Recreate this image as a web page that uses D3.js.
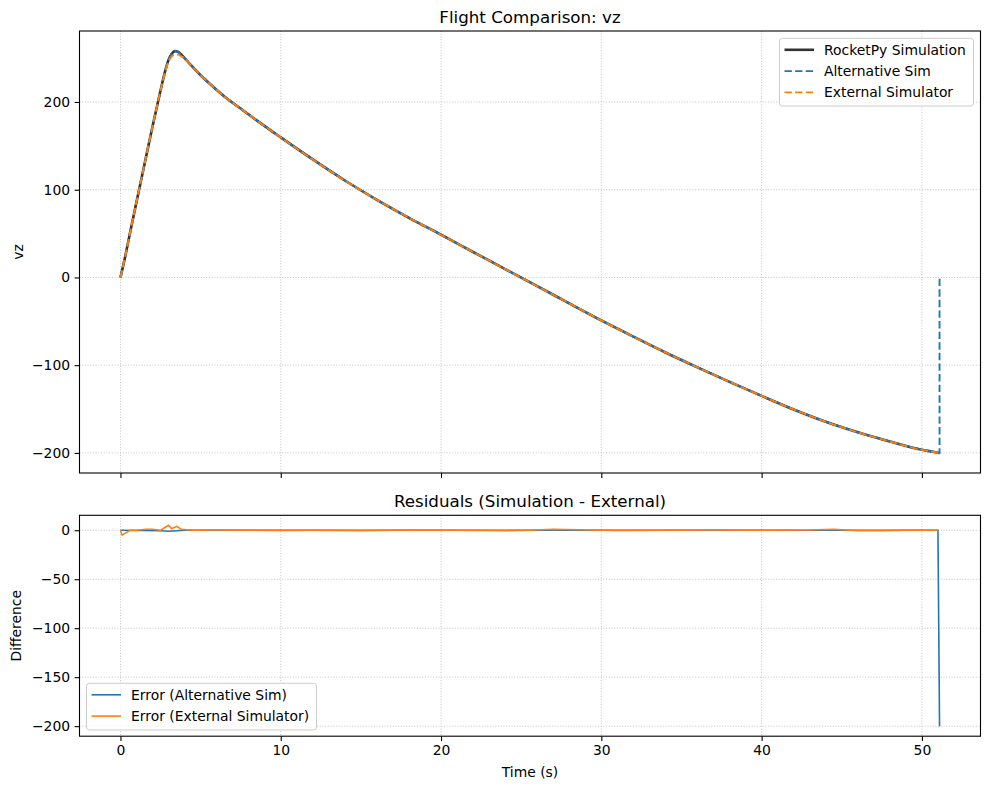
<!DOCTYPE html>
<html>
<head>
<meta charset="utf-8">
<script src="https://cdn.jsdelivr.net/npm/d3@7"></script>
<style>
  body { margin: 0; background: #fff; }
  svg { font-family: "DejaVu Sans", sans-serif; }
</style>
</head>
<body>
<div id="content"></div>
<script>
// time (s) and vz values
var timeMain = [0, 0.3, 0.6, 1.0, 1.5, 2.0, 2.5, 2.8, 3.0, 3.2, 3.4, 3.6, 3.8, 4.0, 4.3, 4.7, 5.2, 5.8, 6.5, 7.5, 8.5, 10,
  12, 14, 16, 18, 20, 22, 24, 26, 28, 30, 32, 34, 36, 38, 40, 42, 44, 46, 48, 50, 51.1];
var rocketpyVz = [0, 24, 51, 86, 129, 172, 213, 236, 248, 255, 258, 257, 254, 250, 244, 236, 227, 217, 206, 192.5, 179, 159.6,
  134.5, 110.5, 88.5, 68, 48.7, 29, 9.5, -10, -29.5, -49, -67.5, -85.5, -102.5, -119, -135, -150.5, -164.5, -176.5, -187, -196.5, -200];
var externalVz = [0, 24, 51, 86, 129, 172, 213, 235, 246, 252, 254, 254, 252, 249.5, 244, 236, 227, 217, 206, 192.5, 179, 159.6,
  134.5, 110.5, 88.5, 68, 48.7, 29, 9.5, -10, -29.5, -49, -67.5, -85.5, -102.5, -119, -135, -150.5, -164.5, -176.5, -187, -196.5, -200];
// alternative sim follows rocketpy, then drops back to 0 at the last sample
var altTime = timeMain.concat([51.1]);
var altVz = rocketpyVz.concat([0]);

// residuals
var resAltTime = [0, 2.5, 3.0, 3.5, 4.0, 10, 20, 30, 40, 51.0, 51.1];
var resAltVals = [0, -0.5, -1, -0.5, 0, 0, 0, 0, 0, 0, -200];
var resExtTime = [0, 0.1, 0.3, 0.6, 1.0, 1.6, 2.0, 2.5, 2.8, 3.0, 3.2, 3.5, 3.8, 4.5, 6, 8, 10, 12, 15, 18, 21,
  24, 25.5, 27, 28.5, 31, 34, 37, 40, 43, 44.5, 46, 47.5, 49, 51];
var resExtVals = [0, -5, -3, 0, 0, 1, 1, 0, 3, 5, 1.5, 4, 1, 0, 0.3, 0, -0.3, 0, -0.5, 0.3, 0,
  -0.5, 0, 1, 0.5, -0.3, 0, 0.3, 0, 0.2, 1, -0.5, -0.5, 0, 0];

var xTicks = [0, 10, 20, 30, 40, 50];
var topTicks = [-200, -100, 0, 100, 200];
var botTicks = [-200, -150, -100, -50, 0];

var W = 989, H = 790;
var left = 79.5, right = 980.5;
var top1 = 31, bot1 = 473, top2 = 515.3, bot2 = 736.2;

var svg = d3.select("#content").append("svg").attr("width", W).attr("height", H);

var x = d3.scaleLinear().domain([-2.555, 53.655]).range([left, right]);
var y1 = d3.scaleLinear().domain([-222.9, 280.9]).range([bot1, top1]);
var y2 = d3.scaleLinear().domain([-210.25, 15.25]).range([bot2, top2]);

function zip(t, v) { return t.map(function(d, i) { return [d, v[i]]; }); }

function panel(y, yt, t, b, showLabels) {
  var g = svg.append("g");
  // grid
  g.selectAll(".gx").data(xTicks).enter().append("line")
    .attr("x1", function(d) { return x(d); }).attr("x2", function(d) { return x(d); })
    .attr("y1", t).attr("y2", b)
    .attr("stroke", "#c4c4c4").attr("stroke-width", 1)
    .attr("stroke-dasharray", "1,1.7");
  g.selectAll(".gy").data(yt).enter().append("line")
    .attr("x1", left).attr("x2", right)
    .attr("y1", function(d) { return y(d); }).attr("y2", function(d) { return y(d); })
    .attr("stroke", "#c4c4c4").attr("stroke-width", 1)
    .attr("stroke-dasharray", "1,1.7");
  var xa = svg.append("g").attr("transform", "translate(0," + b + ")")
    .call(d3.axisBottom(x).tickValues(xTicks).tickSize(4.9).tickPadding(4.5)
      .tickFormat(showLabels ? d3.format("d") : function() { return ""; }));
  var ya = svg.append("g").attr("transform", "translate(" + left + ",0)")
    .call(d3.axisLeft(y).tickValues(yt).tickSize(4.9).tickPadding(4.5));
  [xa, ya].forEach(function(a) {
    a.select(".domain").remove();
    a.selectAll("line").attr("stroke", "#000").attr("stroke-width", 1.1);
    a.selectAll("text").attr("font-size", "13.9px").attr("fill", "#000")
      .attr("font-family", "DejaVu Sans, sans-serif");
  });
  return g;
}

function frame(t, b) {
  svg.append("rect").attr("x", left).attr("y", t).attr("width", right - left).attr("height", b - t)
    .attr("fill", "none").attr("stroke", "#000").attr("stroke-width", 1.1);
}

panel(y1, topTicks, top1, bot1, false);
panel(y2, botTicks, top2, bot2, true);

var line1 = d3.line().x(function(d) { return x(d[0]); }).y(function(d) { return y1(d[1]); }).curve(d3.curveMonotoneX);
var line1L = d3.line().x(function(d) { return x(d[0]); }).y(function(d) { return y1(d[1]); });
var line2 = d3.line().x(function(d) { return x(d[0]); }).y(function(d) { return y2(d[1]); });

svg.append("clipPath").attr("id", "c1").append("rect")
  .attr("x", left).attr("y", top1).attr("width", right - left).attr("height", bot1 - top1);
svg.append("clipPath").attr("id", "c2").append("rect")
  .attr("x", left).attr("y", top2).attr("width", right - left).attr("height", bot2 - top2);

var dash = "7.4,3.2";
var p1 = svg.append("g").attr("clip-path", "url(#c1)");
p1.append("path").datum(zip(timeMain, rocketpyVz)).attr("d", line1)
  .attr("fill", "none").attr("stroke", "#333333").attr("stroke-width", 2.6);
p1.append("path").datum(zip(altTime, altVz)).attr("d", line1L)
  .attr("fill", "none").attr("stroke", "#1f77b4").attr("stroke-width", 1.9).attr("stroke-dasharray", dash);
p1.append("path").datum(zip(timeMain, externalVz)).attr("d", line1)
  .attr("fill", "none").attr("stroke", "#ff7f0e").attr("stroke-width", 1.9).attr("stroke-dasharray", dash);

var p2 = svg.append("g").attr("clip-path", "url(#c2)");
p2.append("path").datum(zip(resAltTime, resAltVals)).attr("d", line2)
  .attr("fill", "none").attr("stroke", "#1f77b4").attr("stroke-width", 1.6);
p2.append("path").datum(zip(resExtTime, resExtVals)).attr("d", line2)
  .attr("fill", "none").attr("stroke", "#ff7f0e").attr("stroke-width", 1.6);

frame(top1, bot1);
frame(top2, bot2);

// titles and labels
var cx = (left + right) / 2;
svg.append("text").attr("x", cx).attr("y", top1 - 8).attr("text-anchor", "middle")
  .attr("font-size", "16.7px").text("Flight Comparison: vz");
svg.append("text").attr("x", cx).attr("y", top2 - 8).attr("text-anchor", "middle")
  .attr("font-size", "16.7px").text("Residuals (Simulation - External)");
svg.append("text").attr("transform", "translate(23," + (top1 + bot1) / 2 + ") rotate(-90)")
  .attr("text-anchor", "middle").attr("font-size", "13.9px").text("vz");
svg.append("text").attr("transform", "translate(21," + (top2 + bot2) / 2 + ") rotate(-90)")
  .attr("text-anchor", "middle").attr("font-size", "13.9px").text("Difference");
svg.append("text").attr("x", cx).attr("y", 777).attr("text-anchor", "middle")
  .attr("font-size", "13.9px").text("Time (s)");

function legend(x0, y0, w, h, items) {
  var g = svg.append("g");
  g.append("rect").attr("x", x0).attr("y", y0).attr("width", w).attr("height", h).attr("rx", 3)
    .attr("fill", "#fff").attr("fill-opacity", 0.8).attr("stroke", "#cccccc").attr("stroke-width", 1);
  items.forEach(function(it, i) {
    var yy = y0 + 11.5 + i * 21.3;
    g.append("line").attr("x1", x0 + 5).attr("x2", x0 + 34.5).attr("y1", yy).attr("y2", yy)
      .attr("stroke", it.color).attr("stroke-width", it.w).attr("stroke-dasharray", it.dash || null);
    g.append("text").attr("x", x0 + 44.5).attr("y", yy + 5).attr("font-size", "13.9px").text(it.label);
  });
}

legend(779.5, 38.3, 194, 67.7, [
  { label: "RocketPy Simulation", color: "#333333", w: 2.6 },
  { label: "Alternative Sim", color: "#1f77b4", w: 1.9, dash: dash },
  { label: "External Simulator", color: "#ff7f0e", w: 1.9, dash: dash }
]);
legend(86.5, 683.3, 230, 46.7, [
  { label: "Error (Alternative Sim)", color: "#1f77b4", w: 1.6 },
  { label: "Error (External Simulator)", color: "#ff7f0e", w: 1.6 }
]);
</script>
</body>
</html>
